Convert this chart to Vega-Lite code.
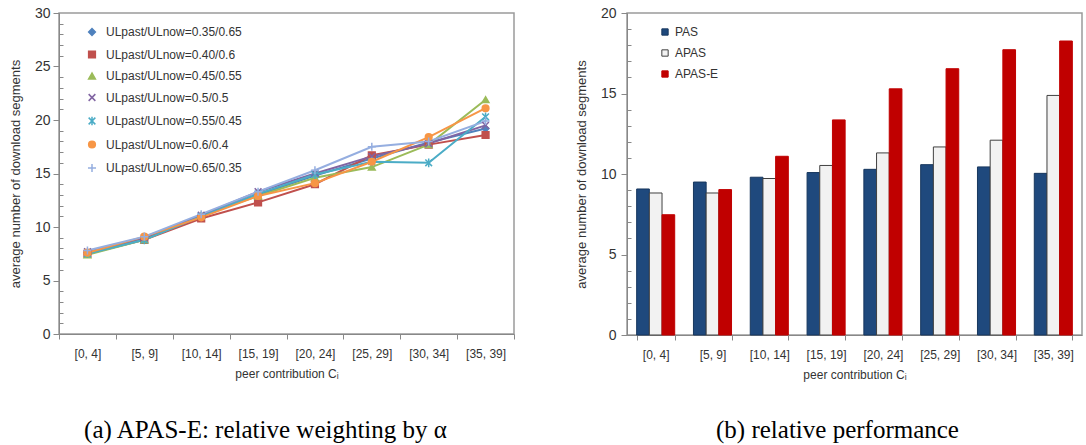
{
  "$schema": "https://vega.github.io/schema/vega-lite/v6.json",
  "padding": {"left": 8, "top": 5, "right": 0, "bottom": 0},
  "background": "white",
  "spacing": 58,
  "resolve": {"scale": {"fill": "independent", "stroke": "independent", "shape": "independent", "x": "independent", "y": "independent"}, "legend": {"fill": "independent", "stroke": "independent", "shape": "independent"}},
  "config": {
    "font": "Liberation Sans",
    "view": {"stroke": "#9a9a9a", "strokeWidth": 1.5},
    "axis": {"domainColor": "#888", "tickColor": "#888", "labelColor": "#333", "titleColor": "#333", "grid": false, "labelFont": "Liberation Sans", "titleFont": "Liberation Sans", "titleFontWeight": "normal"},
    "legend": {"padding": 0}
  },
  "datasets": {
    "lines": [
      {"range": "[0, 4]", "series": "ULpast/ULnow=0.35/0.65", "value": 7.6},
      {"range": "[5, 9]", "series": "ULpast/ULnow=0.35/0.65", "value": 8.9},
      {"range": "[10, 14]", "series": "ULpast/ULnow=0.35/0.65", "value": 11.0},
      {"range": "[15, 19]", "series": "ULpast/ULnow=0.35/0.65", "value": 13.0},
      {"range": "[20, 24]", "series": "ULpast/ULnow=0.35/0.65", "value": 14.8},
      {"range": "[25, 29]", "series": "ULpast/ULnow=0.35/0.65", "value": 16.4},
      {"range": "[30, 34]", "series": "ULpast/ULnow=0.35/0.65", "value": 17.9},
      {"range": "[35, 39]", "series": "ULpast/ULnow=0.35/0.65", "value": 19.2},
      {"range": "[0, 4]", "series": "ULpast/ULnow=0.40/0.6", "value": 7.5},
      {"range": "[5, 9]", "series": "ULpast/ULnow=0.40/0.6", "value": 8.8},
      {"range": "[10, 14]", "series": "ULpast/ULnow=0.40/0.6", "value": 10.8},
      {"range": "[15, 19]", "series": "ULpast/ULnow=0.40/0.6", "value": 12.3},
      {"range": "[20, 24]", "series": "ULpast/ULnow=0.40/0.6", "value": 14.0},
      {"range": "[25, 29]", "series": "ULpast/ULnow=0.40/0.6", "value": 16.7},
      {"range": "[30, 34]", "series": "ULpast/ULnow=0.40/0.6", "value": 17.7},
      {"range": "[35, 39]", "series": "ULpast/ULnow=0.40/0.6", "value": 18.6},
      {"range": "[0, 4]", "series": "ULpast/ULnow=0.45/0.55", "value": 7.4},
      {"range": "[5, 9]", "series": "ULpast/ULnow=0.45/0.55", "value": 8.8},
      {"range": "[10, 14]", "series": "ULpast/ULnow=0.45/0.55", "value": 11.1},
      {"range": "[15, 19]", "series": "ULpast/ULnow=0.45/0.55", "value": 12.9},
      {"range": "[20, 24]", "series": "ULpast/ULnow=0.45/0.55", "value": 14.6},
      {"range": "[25, 29]", "series": "ULpast/ULnow=0.45/0.55", "value": 15.6},
      {"range": "[30, 34]", "series": "ULpast/ULnow=0.45/0.55", "value": 17.7},
      {"range": "[35, 39]", "series": "ULpast/ULnow=0.45/0.55", "value": 21.9},
      {"range": "[0, 4]", "series": "ULpast/ULnow=0.5/0.5", "value": 7.7},
      {"range": "[5, 9]", "series": "ULpast/ULnow=0.5/0.5", "value": 9.0},
      {"range": "[10, 14]", "series": "ULpast/ULnow=0.5/0.5", "value": 11.1},
      {"range": "[15, 19]", "series": "ULpast/ULnow=0.5/0.5", "value": 13.3},
      {"range": "[20, 24]", "series": "ULpast/ULnow=0.5/0.5", "value": 15.0},
      {"range": "[25, 29]", "series": "ULpast/ULnow=0.5/0.5", "value": 16.6},
      {"range": "[30, 34]", "series": "ULpast/ULnow=0.5/0.5", "value": 17.8},
      {"range": "[35, 39]", "series": "ULpast/ULnow=0.5/0.5", "value": 19.5},
      {"range": "[0, 4]", "series": "ULpast/ULnow=0.55/0.45", "value": 7.5},
      {"range": "[5, 9]", "series": "ULpast/ULnow=0.55/0.45", "value": 8.8},
      {"range": "[10, 14]", "series": "ULpast/ULnow=0.55/0.45", "value": 11.0},
      {"range": "[15, 19]", "series": "ULpast/ULnow=0.55/0.45", "value": 13.1},
      {"range": "[20, 24]", "series": "ULpast/ULnow=0.55/0.45", "value": 14.9},
      {"range": "[25, 29]", "series": "ULpast/ULnow=0.55/0.45", "value": 16.1},
      {"range": "[30, 34]", "series": "ULpast/ULnow=0.55/0.45", "value": 16.0},
      {"range": "[35, 39]", "series": "ULpast/ULnow=0.55/0.45", "value": 20.3},
      {"range": "[0, 4]", "series": "ULpast/ULnow=0.6/0.4", "value": 7.6},
      {"range": "[5, 9]", "series": "ULpast/ULnow=0.6/0.4", "value": 9.1},
      {"range": "[10, 14]", "series": "ULpast/ULnow=0.6/0.4", "value": 10.9},
      {"range": "[15, 19]", "series": "ULpast/ULnow=0.6/0.4", "value": 12.9},
      {"range": "[20, 24]", "series": "ULpast/ULnow=0.6/0.4", "value": 14.1},
      {"range": "[25, 29]", "series": "ULpast/ULnow=0.6/0.4", "value": 16.1},
      {"range": "[30, 34]", "series": "ULpast/ULnow=0.6/0.4", "value": 18.4},
      {"range": "[35, 39]", "series": "ULpast/ULnow=0.6/0.4", "value": 21.1},
      {"range": "[0, 4]", "series": "ULpast/ULnow=0.65/0.35", "value": 7.8},
      {"range": "[5, 9]", "series": "ULpast/ULnow=0.65/0.35", "value": 9.1},
      {"range": "[10, 14]", "series": "ULpast/ULnow=0.65/0.35", "value": 11.2},
      {"range": "[15, 19]", "series": "ULpast/ULnow=0.65/0.35", "value": 13.3},
      {"range": "[20, 24]", "series": "ULpast/ULnow=0.65/0.35", "value": 15.3},
      {"range": "[25, 29]", "series": "ULpast/ULnow=0.65/0.35", "value": 17.5},
      {"range": "[30, 34]", "series": "ULpast/ULnow=0.65/0.35", "value": 18.0},
      {"range": "[35, 39]", "series": "ULpast/ULnow=0.65/0.35", "value": 19.9}
    ],
    "bars": [
      {"range": "[0, 4]", "method": "PAS", "value": 9.07},
      {"range": "[5, 9]", "method": "PAS", "value": 9.5},
      {"range": "[10, 14]", "method": "PAS", "value": 9.8},
      {"range": "[15, 19]", "method": "PAS", "value": 10.09},
      {"range": "[20, 24]", "method": "PAS", "value": 10.29},
      {"range": "[25, 29]", "method": "PAS", "value": 10.58},
      {"range": "[30, 34]", "method": "PAS", "value": 10.44},
      {"range": "[35, 39]", "method": "PAS", "value": 10.04},
      {"range": "[0, 4]", "method": "APAS", "value": 8.82},
      {"range": "[5, 9]", "method": "APAS", "value": 8.82},
      {"range": "[10, 14]", "method": "APAS", "value": 9.72},
      {"range": "[15, 19]", "method": "APAS", "value": 10.53},
      {"range": "[20, 24]", "method": "APAS", "value": 11.31},
      {"range": "[25, 29]", "method": "APAS", "value": 11.68},
      {"range": "[30, 34]", "method": "APAS", "value": 12.1},
      {"range": "[35, 39]", "method": "APAS", "value": 14.88},
      {"range": "[0, 4]", "method": "APAS-E", "value": 7.47},
      {"range": "[5, 9]", "method": "APAS-E", "value": 9.03},
      {"range": "[10, 14]", "method": "APAS-E", "value": 11.1},
      {"range": "[15, 19]", "method": "APAS-E", "value": 13.36},
      {"range": "[20, 24]", "method": "APAS-E", "value": 15.29},
      {"range": "[25, 29]", "method": "APAS-E", "value": 16.54},
      {"range": "[30, 34]", "method": "APAS-E", "value": 17.72},
      {"range": "[35, 39]", "method": "APAS-E", "value": 18.26}
    ]
  },
  "hconcat": [
    {
      "width": 455,
      "height": 321,
      "data": {"name": "lines"},
      "title": {"text": "(a) APAS-E: relative weighting by α", "orient": "bottom", "frame": "group", "anchor": "middle", "dx": -21, "offset": 39, "font": "Liberation Serif", "fontSize": 25, "fontWeight": "normal", "color": "#000"},
      "encoding": {
        "x": {"field": "range", "type": "nominal", "bandPosition": 0.5,
          "sort": ["[0, 4]", "[5, 9]", "[10, 14]", "[15, 19]", "[20, 24]", "[25, 29]", "[30, 34]", "[35, 39]"],
          "scale": {"type": "band", "paddingInner": 0, "paddingOuter": 0},
          "axis": {"title": "peer contribution Cᵢ", "labelAngle": 0, "tickBand": "extent", "tickSize": 5, "labelPadding": 9, "labelFontSize": 12, "titleFontSize": 12, "titlePadding": 9}},
        "y": {"field": "value", "type": "quantitative",
          "scale": {"domain": [0, 30], "nice": false, "zero": true},
          "axis": {"title": "average number of download segments", "titleFontSize": 13, "titlePadding": 12,
            "values": [0,1,2,3,4,5,6,7,8,9,10,11,12,13,14,15,16,17,18,19,20,21,22,23,24,25,26,27,28,29,30],
            "labelExpr": "datum.value % 5 === 0 ? datum.label : ''",
            "tickSize": {"condition": {"test": "datum.value % 5 === 0", "value": 6}, "value": -4},
            "labelFontSize": 14, "labelPadding": 3}},
        "stroke": {"field": "series", "type": "nominal",
          "scale": {"domain": ["ULpast/ULnow=0.35/0.65", "ULpast/ULnow=0.40/0.6", "ULpast/ULnow=0.45/0.55", "ULpast/ULnow=0.5/0.5", "ULpast/ULnow=0.55/0.45", "ULpast/ULnow=0.6/0.4", "ULpast/ULnow=0.65/0.35"],
            "range": ["#4F81BD", "#C0504D", "#9BBB59", "#8064A2", "#4BACC6", "#F79646", "#95AEE0"]},
          "legend": {"orient": "none", "legendX": 27, "legendY": 13, "title": null, "labelFontSize": 12, "labelColor": "#333", "labelOffset": 8, "rowPadding": 8.5, "symbolSize": 45, "symbolStrokeWidth": 1.5}}
      },
      "layer": [
        {
          "mark": {"type": "line", "strokeWidth": 2}
        },
        {
          "mark": {"type": "point", "filled": true, "size": 45, "strokeWidth": 1.5, "opacity": 1},
          "encoding": {
            "fill": {"field": "series", "type": "nominal",
              "scale": {"domain": ["ULpast/ULnow=0.35/0.65", "ULpast/ULnow=0.40/0.6", "ULpast/ULnow=0.45/0.55", "ULpast/ULnow=0.5/0.5", "ULpast/ULnow=0.55/0.45", "ULpast/ULnow=0.6/0.4", "ULpast/ULnow=0.65/0.35"],
                "range": ["#4F81BD", "#C0504D", "#9BBB59", "#8064A2", "#4BACC6", "#F79646", "#95AEE0"]},
              "legend": {"orient": "none", "legendX": 27, "legendY": 13, "title": null, "labelFontSize": 12, "labelColor": "#333", "labelOffset": 8, "rowPadding": 8.5, "symbolSize": 45, "symbolStrokeWidth": 1.5}},
            "shape": {"field": "series", "type": "nominal",
              "scale": {"domain": ["ULpast/ULnow=0.35/0.65", "ULpast/ULnow=0.40/0.6", "ULpast/ULnow=0.45/0.55", "ULpast/ULnow=0.5/0.5", "ULpast/ULnow=0.55/0.45", "ULpast/ULnow=0.6/0.4", "ULpast/ULnow=0.65/0.35"],
                "range": ["diamond", "square", "triangle-up", "M-1,-1L1,1M-1,1L1,-1", "M-1,-1L1,1M-1,1L1,-1M0,-1.3V1.3", "circle", "M-1.2,0H1.2M0,-1.2V1.2"]},
              "legend": {"orient": "none", "legendX": 27, "legendY": 13, "title": null, "labelFontSize": 12, "labelColor": "#333", "labelOffset": 8, "rowPadding": 8.5, "symbolSize": 45, "symbolStrokeWidth": 1.5}}
          }
        }
      ]
    },
    {
      "width": 455,
      "height": 322,
      "data": {"name": "bars"},
      "title": {"text": "(b) relative performance", "orient": "bottom", "frame": "group", "anchor": "middle", "dx": -17, "offset": 38, "font": "Liberation Serif", "fontSize": 25, "fontWeight": "normal", "color": "#000"},
      "mark": {"type": "bar", "strokeWidth": 1},
      "encoding": {
        "x": {"field": "range", "type": "nominal",
          "sort": ["[0, 4]", "[5, 9]", "[10, 14]", "[15, 19]", "[20, 24]", "[25, 29]", "[30, 34]", "[35, 39]"],
          "scale": {"paddingInner": 0.33, "paddingOuter": 0.17},
          "axis": {"title": "peer contribution Cᵢ", "labelAngle": 0, "tickBand": "extent", "tickSize": 5, "labelPadding": 9, "labelFontSize": 12, "titleFontSize": 12, "titlePadding": 9}},
        "xOffset": {"field": "method", "type": "nominal", "sort": ["PAS", "APAS", "APAS-E"], "scale": {"paddingInner": 0, "paddingOuter": 0}},
        "y": {"field": "value", "type": "quantitative",
          "scale": {"domain": [0, 20], "nice": false},
          "axis": {"title": "average number of download segments", "titleFontSize": 13, "titlePadding": 12,
            "values": [0,1,2,3,4,5,6,7,8,9,10,11,12,13,14,15,16,17,18,19,20],
            "labelExpr": "datum.value % 5 === 0 ? datum.label : ''",
            "tickSize": {"condition": {"test": "datum.value % 5 === 0", "value": 6}, "value": -4},
            "labelFontSize": 14, "labelPadding": 5}},
        "fill": {"field": "method", "type": "nominal",
          "scale": {"domain": ["PAS", "APAS", "APAS-E"], "range": ["#1F497D", "#F2F2F2", "#C00000"]},
          "legend": {"orient": "none", "legendX": 32, "legendY": 13, "title": null, "labelFontSize": 12, "labelColor": "#333", "labelOffset": 4, "rowPadding": 9, "symbolType": "square", "symbolSize": 40, "symbolStrokeWidth": 1}},
        "stroke": {"field": "method", "type": "nominal",
          "scale": {"domain": ["PAS", "APAS", "APAS-E"], "range": ["#17375E", "#404040", "#C00000"]},
          "legend": {"orient": "none", "legendX": 32, "legendY": 13, "title": null, "labelFontSize": 12, "labelColor": "#333", "labelOffset": 4, "rowPadding": 9, "symbolType": "square", "symbolSize": 40, "symbolStrokeWidth": 1}}
      }
    }
  ]
}
